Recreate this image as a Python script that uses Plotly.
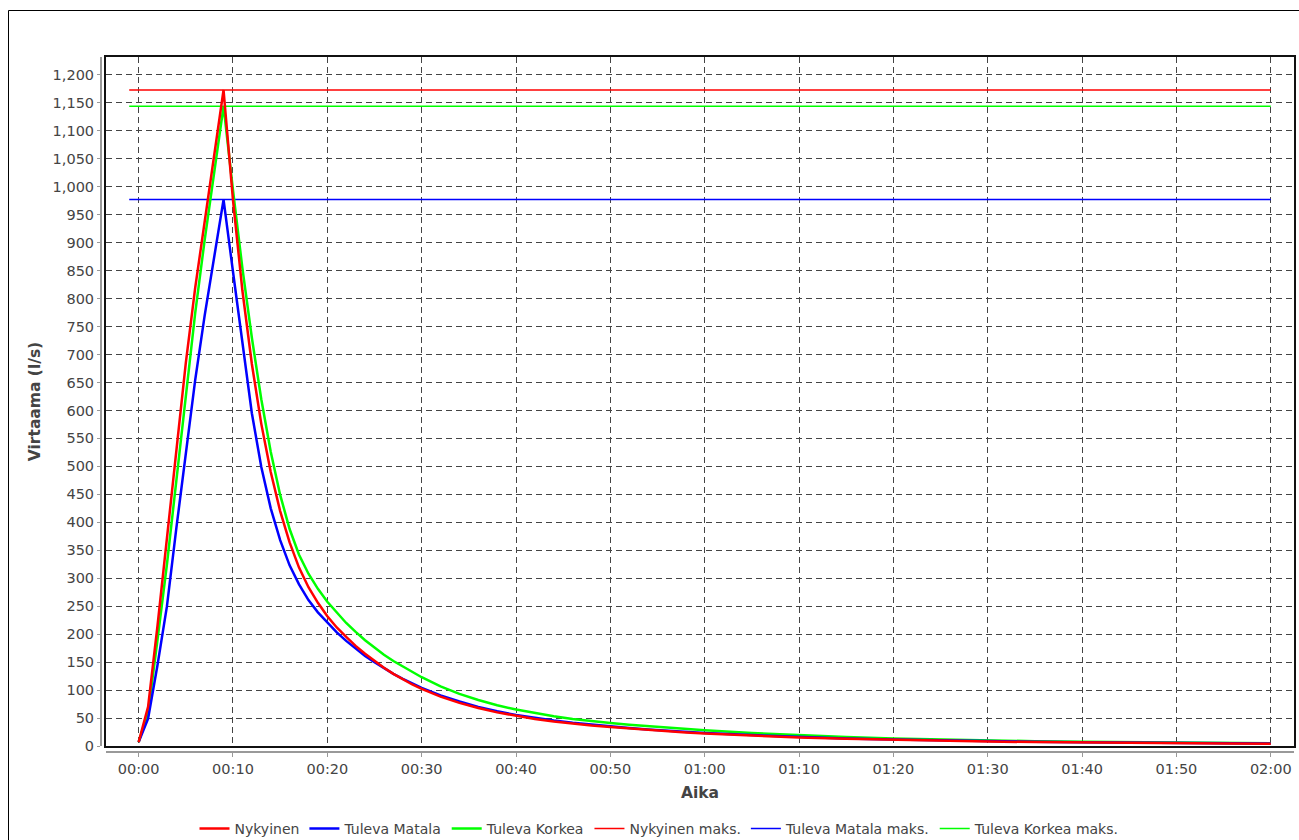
import plotly.graph_objects as go

# ---- data (minutes from start) ----
time_min = ([0, 1, 2, 3, 4, 5, 6, 7, 8, 9, 10, 11, 12, 13, 14, 15, 16, 17, 18, 19, 20,
             21, 22, 23, 24, 25, 26, 27, 28, 29, 30]
            + [32, 34, 36, 38, 40, 42, 44, 46, 48, 50, 52, 54, 56, 58, 60]
            + [65, 70, 75, 80, 85, 90, 95, 100, 105, 110, 115, 120])

nykyinen = ([7, 70, 215, 370, 530, 685, 820, 940, 1057, 1173, 976, 814, 683, 576, 490, 420,
             364, 319, 284, 256, 232, 212, 195, 179, 165, 152, 140, 129, 119, 110, 102]
            + [88.3, 77.1, 67.8, 60.1, 53.6, 48.3, 43.8, 39.9, 36.6, 33.8, 31.1, 28.6, 26.3,
               24.2, 22.3]
            + [18.5, 15.3, 12.8, 10.8, 9.2, 8, 7, 6.1, 5.4, 4.8, 4.3, 3.9])

tuleva_matala = ([7, 49, 145, 250, 390, 525, 655, 770, 875, 977, 848, 719, 595, 499, 425, 368,
                  323, 289, 261, 239, 220, 203, 188, 174, 161, 150, 139, 129, 120, 112, 104]
                 + [90.5, 79.5, 70, 62, 55.5, 50, 45.5, 41.5, 38, 35, 32.2, 29.7, 27.4,
                    25.3, 23.3]
                 + [19.5, 16.2, 13.6, 11.5, 9.9, 8.7, 7.6, 6.7, 5.9, 5.3, 4.8, 4.3])

tuleva_korkea = ([7, 60, 190, 325, 475, 630, 775, 905, 1025, 1144, 994, 854, 730, 620, 526, 449,
                  388, 342, 308, 281, 258, 238, 220, 204, 189, 176, 163, 152, 142, 132, 123]
                 + [106.7, 93.3, 82.3, 73, 65.1, 58.6, 53.1, 48.4, 44.4, 41, 38, 35.2, 32.6,
                    30.2, 28]
                 + [23.3, 19.2, 15.9, 13.3, 11.3, 9.8, 8.6, 7.6, 6.7, 6, 5.4, 5])

max_span = [-1, 120]
nykyinen_maks = 1173
tuleva_matala_maks = 977
tuleva_korkea_maks = 1144

x_tickvals = [0, 10, 20, 30, 40, 50, 60, 70, 80, 90, 100, 110, 120]
x_ticktext = ["00:00", "00:10", "00:20", "00:30", "00:40", "00:50", "01:00",
              "01:10", "01:20", "01:30", "01:40", "01:50", "02:00"]

X_RANGE = [-3.46, 122.46]
Y_RANGE = [0, 1232]

RED, BLUE, GREEN = "#FF0000", "#0000FF", "#00FF00"
FONT = "DejaVu Sans"
TXT = "#444444"
GRID = "#444444"
AXIS_GRAY = "#999999"

fig = go.Figure()
# drawn in reverse order (first series on top), legend order reversed back
fig.add_trace(go.Scatter(x=max_span, y=[tuleva_korkea_maks] * 2, mode="lines",
                         name="Tuleva Korkea maks.", line=dict(color=GREEN, width=1.5)))
fig.add_trace(go.Scatter(x=max_span, y=[tuleva_matala_maks] * 2, mode="lines",
                         name="Tuleva Matala maks.", line=dict(color=BLUE, width=1.5)))
fig.add_trace(go.Scatter(x=max_span, y=[nykyinen_maks] * 2, mode="lines",
                         name="Nykyinen maks.", line=dict(color=RED, width=1.5)))
fig.add_trace(go.Scatter(x=time_min, y=tuleva_korkea, mode="lines",
                         name="Tuleva Korkea", line=dict(color=GREEN, width=2.5)))
fig.add_trace(go.Scatter(x=time_min, y=tuleva_matala, mode="lines",
                         name="Tuleva Matala", line=dict(color=BLUE, width=2.5)))
fig.add_trace(go.Scatter(x=time_min, y=nykyinen, mode="lines",
                         name="Nykyinen", line=dict(color=RED, width=2.5)))
# carrier for the offset (JFreeChart-style) tick axes
fig.add_trace(go.Scatter(x=[None], y=[None], xaxis="x2", yaxis="y2", mode="lines",
                         showlegend=False, hoverinfo="skip"))

W, H = 1299, 840
L, R, T, B = 101, 5, 57, 88          # paper area: 101..1294 x 57..752
plot_left, plot_bottom = 106, 746     # plot frame inside the paper area
pw, ph = W - L - R, H - T - B

grid_common = dict(showgrid=True, gridcolor=GRID, gridwidth=1, griddash="6px,4px",
                   zeroline=False, showline=True, mirror=True, linecolor="#111111",
                   linewidth=1.5, ticks="", showticklabels=False, automargin=False)

fig.update_layout(
    width=W, height=H,
    margin=dict(l=L, r=R, t=T, b=B),
    paper_bgcolor="white", plot_bgcolor="white",
    font=dict(family=FONT, size=14.5, color=TXT),
    showlegend=True,
    legend=dict(orientation="h", traceorder="reversed",
                xref="container", x=659.5 / W, xanchor="center",
                yref="container", y=1 - 829 / H, yanchor="middle",
                font=dict(size=14, color=TXT), itemwidth=30, tracegroupgap=0,
                bgcolor="rgba(0,0,0,0)"),
    xaxis=dict(domain=[(plot_left - L) / pw, 1], anchor="y", range=X_RANGE,
               tickvals=x_tickvals, **grid_common),
    yaxis=dict(domain=[(T + ph - plot_bottom) / ph, 1], anchor="x", range=Y_RANGE,
               dtick=50, tick0=0, **grid_common),
    xaxis2=dict(overlaying="x", anchor="free", position=0, range=X_RANGE,
                tickvals=x_tickvals, ticktext=x_ticktext, showgrid=False, zeroline=False,
                showline=True, linecolor=AXIS_GRAY, linewidth=2,
                ticks="outside", ticklen=4, tickcolor=AXIS_GRAY, tickwidth=1,
                automargin=False,
                tickfont=dict(size=14.5, color=TXT),
                title=dict(text="<b>Aika</b>", font=dict(size=15.5, color=TXT), standoff=10)),
    yaxis2=dict(overlaying="y", anchor="free", position=0, side="left", range=Y_RANGE,
                dtick=50, tick0=0, tickformat=",d", showgrid=False, zeroline=False,
                showline=True, linecolor=AXIS_GRAY, linewidth=2,
                ticks="outside", ticklen=3, tickcolor=AXIS_GRAY, tickwidth=1,
                automargin=False, tickfont=dict(size=14.5, color=TXT),
                title=dict(text="<b>Virtaama (l/s)</b>", font=dict(size=15.5, color=TXT),
                           standoff=7)),
    shapes=[
        # outer border of the chart panel
        dict(type="rect", xref="paper", yref="paper",
             x0=(8.5 - L) / pw, x1=(1310 - L) / pw,
             y0=(T + ph - 860) / ph, y1=(T + ph - 10.5) / ph,
             line=dict(color="#000000", width=1), fillcolor="rgba(0,0,0,0)", layer="below"),
    ],
)

fig.write_html("out.html")
